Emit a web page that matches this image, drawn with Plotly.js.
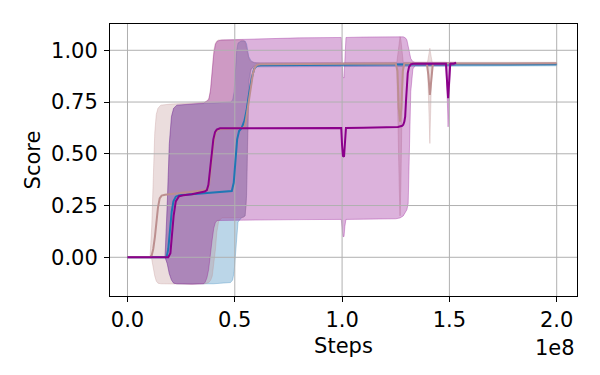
<!DOCTYPE html>
<html>
<head>
<meta charset="utf-8">
<script src="https://cdn.plot.ly/plotly-3.0.1.min.js"></script>
<style>
  html, body { margin: 0; padding: 0; background: #fff; }
  #plot { width: 600px; height: 375px; }
</style>
</head>
<body>
<div id="plot"></div>
<script>
// steps are in units of 1e8 (matches the offset label on the x axis)
const xTicks = [0, 0.5, 1.0, 1.5, 2.0];
const xTickText = ['0.0', '0.5', '1.0', '1.5', '2.0'];
const yTicks = [0, 0.25, 0.5, 0.75, 1.0];
const yTickText = ['0.00', '0.25', '0.50', '0.75', '1.00'];

// blue run: mean score
const blueSteps = [0, 0.182, 0.19, 0.198, 0.206, 0.214, 0.225, 0.24, 0.3, 0.4, 0.486, 0.495, 0.503, 0.511, 0.52, 0.532, 0.545, 0.555, 0.565, 0.579, 0.59, 0.602, 0.62, 0.8, 1.2, 2.0];
const blueMean = [0, 0, 0.04, 0.13, 0.22, 0.27, 0.293, 0.30, 0.305, 0.312, 0.32, 0.36, 0.47, 0.57, 0.61, 0.625, 0.66, 0.71, 0.78, 0.866, 0.91, 0.925, 0.928, 0.93, 0.931, 0.932];
// blue run: spread
const blueBandSteps = [0, 0.175, 0.185, 0.195, 0.205, 0.215, 0.23, 0.3, 0.4, 0.48, 0.49, 0.497, 0.503, 0.509, 0.515, 0.53, 0.548, 0.555, 0.56, 0.565, 0.575, 0.59, 0.62, 2.0];
const blueLow = [0, 0, -0.03, -0.08, -0.11, -0.125, -0.128, -0.13, -0.128, -0.122, -0.11, -0.07, 0.0, 0.1, 0.17, 0.19, 0.2, 0.3, 0.6, 0.85, 0.91, 0.92, 0.922, 0.925];
const blueHigh = [0, 0, 0.25, 0.55, 0.68, 0.72, 0.735, 0.74, 0.745, 0.75, 0.76, 0.8, 0.9, 1.0, 1.035, 1.045, 1.045, 1.03, 1.0, 0.97, 0.95, 0.94, 0.938, 0.938];

// brown run
const brownSteps = [0, 0.105, 0.113, 0.12, 0.128, 0.135, 0.142, 0.15, 0.159, 0.175, 0.25, 0.35, 0.372, 0.38, 0.388, 0.395, 0.402, 0.41, 0.418, 0.43, 0.5, 0.54, 0.548, 0.556, 0.564, 0.571, 0.578, 0.585, 0.595, 0.605, 0.62, 1.0, 1.25, 1.258, 1.264, 1.27, 1.276, 1.283, 1.29, 1.395, 1.402, 1.409, 1.416, 1.423, 2.0];
const brownMean = [0, 0, 0.01, 0.04, 0.1, 0.17, 0.24, 0.285, 0.298, 0.302, 0.31, 0.32, 0.325, 0.35, 0.42, 0.5, 0.56, 0.6, 0.613, 0.618, 0.623, 0.626, 0.635, 0.69, 0.76, 0.8, 0.85, 0.89, 0.92, 0.93, 0.932, 0.935, 0.936, 0.9, 0.72, 0.655, 0.72, 0.9, 0.936, 0.936, 0.88, 0.784, 0.88, 0.936, 0.937];
const brownBandSteps = [0, 0.105, 0.113, 0.12, 0.127, 0.134, 0.142, 0.155, 0.2, 0.3, 0.36, 0.37, 0.38, 0.388, 0.395, 0.402, 0.41, 0.416, 0.425, 0.44, 0.5, 0.54, 0.548, 0.553, 0.558, 0.565, 0.575, 0.585, 0.6, 1.255, 1.261, 1.266, 1.27, 1.274, 1.279, 1.285, 1.398, 1.403, 1.409, 1.415, 1.42, 2.0];
const brownLow = [0, 0, -0.01, -0.05, -0.09, -0.115, -0.125, -0.128, -0.13, -0.13, -0.128, -0.125, -0.12, -0.11, -0.09, -0.05, 0.04, 0.12, 0.175, 0.19, 0.19, 0.192, 0.2, 0.25, 0.45, 0.75, 0.9, 0.922, 0.928, 0.93, 0.7, 0.35, 0.2, 0.35, 0.7, 0.93, 0.93, 0.8, 0.55, 0.8, 0.93, 0.93];
const brownHigh = [0, 0, 0.15, 0.4, 0.6, 0.69, 0.72, 0.735, 0.74, 0.745, 0.75, 0.755, 0.77, 0.82, 0.92, 1.0, 1.035, 1.045, 1.05, 1.05, 1.05, 1.05, 1.04, 1.02, 0.99, 0.96, 0.945, 0.942, 0.94, 0.942, 1.0, 1.05, 1.066, 1.05, 1.0, 0.942, 0.942, 0.97, 1.01, 0.97, 0.942, 0.942];

// purple run
const purpleSteps = [0, 0.19, 0.2, 0.207, 0.215, 0.225, 0.24, 0.26, 0.3, 0.36, 0.37, 0.377, 0.385, 0.392, 0.4, 0.408, 0.416, 0.431, 0.6, 0.8, 0.996, 1.0, 1.004, 1.009, 1.013, 1.018, 1.1, 1.2, 1.26, 1.28, 1.285, 1.29, 1.294, 1.298, 1.302, 1.306, 1.312, 1.32, 1.33, 1.484, 1.489, 1.494, 1.499, 1.504, 1.52, 1.531];
const purpleMean = [0, 0, 0.02, 0.1, 0.2, 0.27, 0.295, 0.3, 0.305, 0.318, 0.325, 0.35, 0.42, 0.5, 0.57, 0.605, 0.617, 0.623, 0.623, 0.624, 0.625, 0.54, 0.49, 0.486, 0.56, 0.625, 0.626, 0.628, 0.63, 0.635, 0.64, 0.655, 0.68, 0.76, 0.84, 0.89, 0.92, 0.932, 0.935, 0.935, 0.85, 0.768, 0.85, 0.935, 0.935, 0.94];
const purpleBandSteps = [0, 0.175, 0.185, 0.195, 0.205, 0.215, 0.23, 0.3, 0.355, 0.362, 0.37, 0.378, 0.386, 0.394, 0.402, 0.41, 0.42, 0.44, 0.6, 0.8, 0.996, 1.0, 1.004, 1.009, 1.013, 1.018, 1.1, 1.25, 1.27, 1.285, 1.295, 1.302, 1.308, 1.314, 1.32, 1.33, 1.34, 1.484, 1.489, 1.494, 1.499, 1.504, 1.531];
const purpleLow = [0, 0, -0.03, -0.08, -0.11, -0.125, -0.128, -0.13, -0.128, -0.12, -0.1, -0.06, 0.0, 0.08, 0.14, 0.17, 0.178, 0.18, 0.18, 0.182, 0.183, 0.15, 0.1, 0.1, 0.15, 0.183, 0.184, 0.186, 0.19, 0.2, 0.215, 0.23, 0.26, 0.45, 0.8, 0.91, 0.925, 0.925, 0.8, 0.63, 0.8, 0.925, 0.93];
const purpleHigh = [0, 0, 0.25, 0.55, 0.68, 0.72, 0.735, 0.74, 0.745, 0.75, 0.755, 0.76, 0.8, 0.9, 0.98, 1.03, 1.045, 1.05, 1.055, 1.06, 1.062, 0.95, 0.87, 0.866, 0.95, 1.062, 1.064, 1.065, 1.065, 1.065, 1.06, 1.05, 1.02, 0.98, 0.96, 0.945, 0.942, 0.942, 0.94, 0.94, 0.94, 0.942, 0.942];

const xRange = [-0.0815, 2.0946];
const yRange = [-0.187, 1.127];
const FONT = 'DejaVu Sans, sans-serif';
const FONT_SIZE = 21;

function bandTrace(xs, lo, hi, color) {
    return {
        x: xs.concat(xs.slice().reverse()),
        y: hi.concat(lo.slice().reverse()),
        mode: 'lines',
        fill: 'toself',
        fillcolor: color,
        line: { color: color, width: 1 },
        hoverinfo: 'skip',
        showlegend: false
    };
}

function lineTrace(xs, ys, color) {
    return {
        x: xs, y: ys,
        mode: 'lines',
        line: { color: color, width: 2 },
        hoverinfo: 'skip',
        showlegend: false
    };
}

// grid sits above the shaded bands but under the lines, like matplotlib
function gridTrace() {
    let gx = [], gy = [];
    xTicks.forEach(v => { gx.push(v, v, null); gy.push(yRange[0], yRange[1], null); });
    yTicks.forEach(v => { gx.push(xRange[0], xRange[1], null); gy.push(v, v, null); });
    return {
        x: gx, y: gy,
        mode: 'lines',
        line: { color: '#b0b0b0', width: 1 },
        hoverinfo: 'skip',
        showlegend: false
    };
}

const traces = [
    bandTrace(blueBandSteps, blueLow, blueHigh, 'rgba(31,119,180,0.3)'),
    bandTrace(brownBandSteps, brownLow, brownHigh, 'rgba(188,143,143,0.3)'),
    bandTrace(purpleBandSteps, purpleLow, purpleHigh, 'rgba(139,0,139,0.3)'),
    gridTrace(),
    lineTrace(blueSteps, blueMean, '#1f77b4'),
    lineTrace(brownSteps, brownMean, '#bc8f8f'),
    lineTrace(purpleSteps, purpleMean, '#8b008b')
];

const axisCommon = {
    showgrid: false,
    zeroline: false,
    showline: true,
    mirror: true,
    linecolor: 'black',
    linewidth: 1,
    ticks: 'outside',
    ticklen: 5,
    tickwidth: 1,
    tickcolor: 'black',
    tickfont: { family: FONT, size: FONT_SIZE, color: 'black' },
    layer: 'above traces'
};

const layout = {
    width: 600,
    height: 375,
    margin: { l: 110, r: 23, t: 24, b: 79 },
    paper_bgcolor: 'white',
    plot_bgcolor: 'white',
    showlegend: false,
    xaxis: Object.assign({}, axisCommon, {
        range: xRange,
        tickvals: xTicks,
        ticktext: xTickText,
        title: { text: 'Steps', font: { family: FONT, size: FONT_SIZE, color: 'black' }, standoff: 7 }
    }),
    yaxis: Object.assign({}, axisCommon, {
        range: yRange,
        tickvals: yTicks,
        ticktext: yTickText,
        ticklabelstandoff: 2,
        title: { text: 'Score', font: { family: FONT, size: FONT_SIZE, color: 'black' }, standoff: 4 }
    }),
    annotations: [{
        text: '1e8',
        xref: 'paper', yref: 'paper',
        x: 1, y: -0.14,
        xanchor: 'right', yanchor: 'top',
        showarrow: false,
        font: { family: FONT, size: FONT_SIZE, color: 'black' }
    }]
};

Plotly.newPlot('plot', traces, layout, { staticPlot: true, displayModeBar: false });
</script>
</body>
</html>
